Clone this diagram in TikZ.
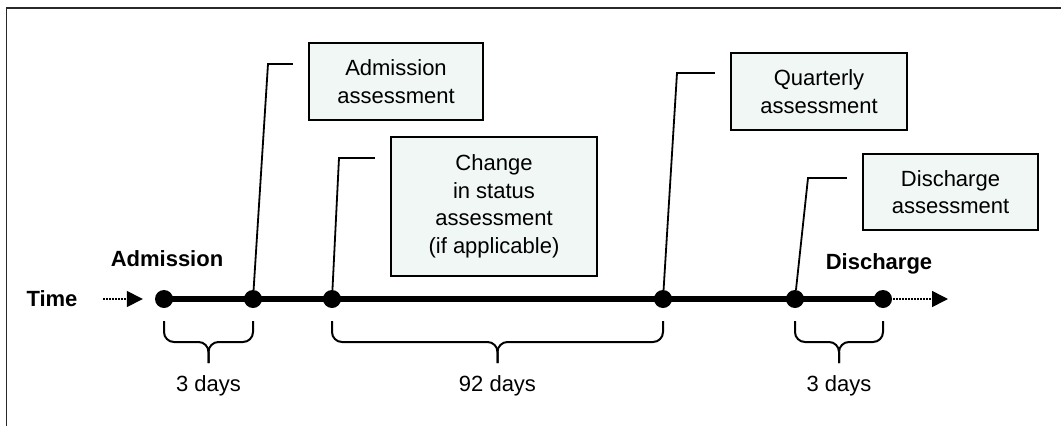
\documentclass[tikz,border=0pt]{standalone}
\usepackage{fontspec}
\setmainfont{Liberation Sans}
\usetikzlibrary{arrows.meta, backgrounds, calc}
\definecolor{boxfill}{RGB}{240,247,245}
\definecolor{framegray}{RGB}{40,40,40}

\begin{document}
\begin{tikzpicture}[x=1pt, y=-1pt,
  every node/.style={font=\fontsize{22}{27.5}\selectfont},
  dot/.style={circle, fill=black, inner sep=0pt, minimum size=18pt},
  timeline/.style={line width=5.5pt},
  assess/.style={draw=black, line width=2.3pt, fill=boxfill, align=center, inner sep=0pt},
  leader/.style={line width=1.8pt},
  bracket/.style={line width=2pt, rounded corners=10pt},
  timearrow/.style={line width=1.5pt, dash pattern=on 1.5pt off 1.5pt, -{Triangle[length=16pt,width=16pt]}},
  event/.style={font=\fontsize{22}{27.5}\selectfont\bfseries}
]
\useasboundingbox (0,0) rectangle (1061,426);

% Moldura
\draw[line width=1.5pt, framegray] (6.5,426) -- (6.5,8) -- (1061,8);

% Pontos da linha do tempo
\foreach \n/\x in {1/164, 2/253, 3/332, 4/663, 5/795, 6/883}
  \node[dot] (d\n) at (\x,299) {};

% Linha do tempo (atras dos pontos)
\begin{scope}[on background layer]
  \draw[timeline] (d1.center) -- (d6.center);
\end{scope}

% Setas pontilhadas
\coordinate (tin) at (103,299);
\coordinate (tout) at (948,299);
\draw[timearrow] (tin) -- ([xshift=-12pt]d1.west);
\draw[timearrow] ([xshift=1pt]d6.east) -- (tout);

% Rotulos
\node[event] (timelbl) at (52,299) {Time};
\node[event] (admlbl) at (167,259) {Admission};
\node[event] (dislbl) at (879,264) {Discharge};

% Caixas de avaliacao
\node[assess, minimum width=174pt, minimum height=77pt] (admbox) at (396,81.5) {Admission\\assessment};
\node[assess, minimum width=206pt, minimum height=139pt] (chgbox) at (494,206.5) {Change\\in status\\assessment\\(if applicable)};
\node[assess, minimum width=176pt, minimum height=77pt] (qtrbox) at (819,91.5) {Quarterly\\assessment};
\node[assess, minimum width=175pt, minimum height=76pt] (disbox) at (950.5,192) {Discharge\\assessment};

% Linhas de chamada
\coordinate (admk) at (268,64);
\coordinate (chgk) at (339,158);
\coordinate (qtrk) at (677,73);
\coordinate (disk) at (808,178);
\draw[leader] (d2) -- (admk) -- ([xshift=-15pt]admbox.west |- admk);
\draw[leader] (d3) -- (chgk) -- ([xshift=-15pt]chgbox.west |- chgk);
\draw[leader] (d4) -- (qtrk) -- ([xshift=-15pt]qtrbox.west |- qtrk);
\draw[leader] (d5) -- (disk) -- ([xshift=-15pt]disbox.west |- disk);

% Chaves com os intervalos
\foreach \a/\b/\m/\txt in {d1/d2/s1/3 days, d3/d4/s2/92 days, d5/d6/s3/3 days} {
  \coordinate (\m) at ($(\a)!0.5!(\b)$);
  \draw[bracket] ([yshift=-22pt]\a.center) |- ([yshift=-43pt]\m) -- ([yshift=-64pt]\m);
  \draw[bracket] ([yshift=-22pt]\b.center) |- ([yshift=-43pt]\m) -- ([yshift=-64pt]\m);
  \node (\m lbl) at ([yshift=-87pt]\m) {\txt};
}

\end{tikzpicture}
\end{document}
